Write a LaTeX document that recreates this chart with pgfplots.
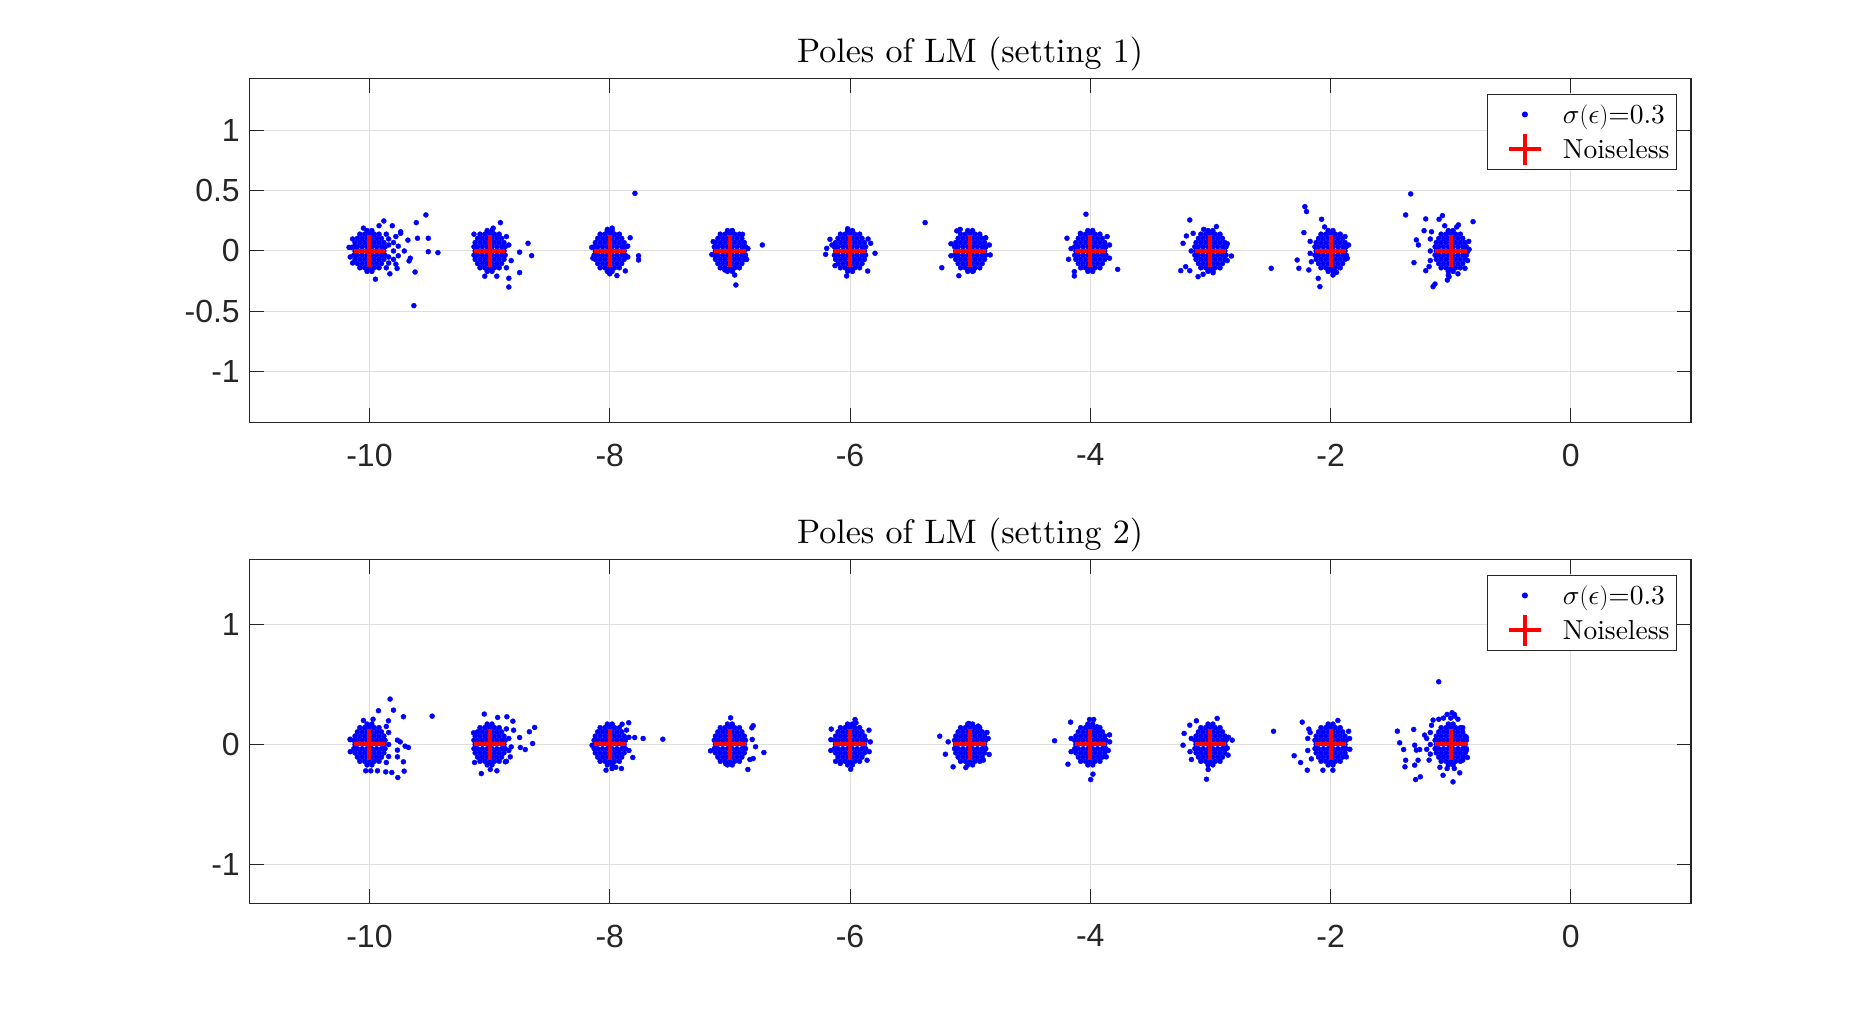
\documentclass[border=0pt]{standalone}
\usepackage{fontspec}
\setmainfont{lmroman10-regular.otf}[ItalicFont=lmroman10-italic.otf, BoldFont=lmroman10-bold.otf]
\DeclareFontShape{OML}{cmm}{m}{it}{<->cmmi10}{}
\usepackage{pgfplots}
\usepackage{pgfplotstable}
\pgfplotsset{compat=1.18}
\newfontfamily\arial{Liberation Sans}
\definecolor{axgray}{RGB}{38,38,38}
\definecolor{gridgray}{RGB}{223,223,223}

% dense core of every cluster (noisy poles)
\pgfplotstableread[row sep=\\]{
x y\\
-10.12 0\\-9.88 0\\
-10.13 0.035\\-10.10 0.035\\-10.06 0.035\\-10.02 0.035\\-9.98 0.035\\-9.94 0.035\\-9.90 0.035\\-9.87 0.035\\
-10.13 -0.035\\-10.10 -0.035\\-10.06 -0.035\\-10.02 -0.035\\-9.98 -0.035\\-9.94 -0.035\\-9.90 -0.035\\-9.87 -0.035\\
-10.12 0.07\\-10.08 0.07\\-10.04 0.07\\-10 0.07\\-9.96 0.07\\-9.92 0.07\\-9.88 0.07\\
-10.12 -0.07\\-10.08 -0.07\\-10.04 -0.07\\-10 -0.07\\-9.96 -0.07\\-9.92 -0.07\\-9.88 -0.07\\
-10.10 0.105\\-10.06 0.105\\-10.02 0.105\\-9.98 0.105\\-9.94 0.105\\-9.90 0.105\\
-10.10 -0.105\\-10.06 -0.105\\-10.02 -0.105\\-9.98 -0.105\\-9.94 -0.105\\-9.90 -0.105\\
-10.08 0.14\\-10.04 0.14\\-10 0.14\\-9.96 0.14\\-9.92 0.14\\
-10.08 -0.14\\-10.04 -0.14\\-10 -0.14\\-9.96 -0.14\\-9.92 -0.14\\
-10.02 0.17\\-9.98 0.17\\-10.02 -0.17\\-9.98 -0.17\\
-9.12 0\\-8.88 0\\
-9.13 0.035\\-9.10 0.035\\-9.06 0.035\\-9.02 0.035\\-8.98 0.035\\-8.94 0.035\\-8.90 0.035\\-8.87 0.035\\
-9.13 -0.035\\-9.10 -0.035\\-9.06 -0.035\\-9.02 -0.035\\-8.98 -0.035\\-8.94 -0.035\\-8.90 -0.035\\-8.87 -0.035\\
-9.12 0.07\\-9.08 0.07\\-9.04 0.07\\-9 0.07\\-8.96 0.07\\-8.92 0.07\\-8.88 0.07\\
-9.12 -0.07\\-9.08 -0.07\\-9.04 -0.07\\-9 -0.07\\-8.96 -0.07\\-8.92 -0.07\\-8.88 -0.07\\
-9.10 0.105\\-9.06 0.105\\-9.02 0.105\\-8.98 0.105\\-8.94 0.105\\-8.90 0.105\\
-9.10 -0.105\\-9.06 -0.105\\-9.02 -0.105\\-8.98 -0.105\\-8.94 -0.105\\-8.90 -0.105\\
-9.08 0.14\\-9.04 0.14\\-9 0.14\\-8.96 0.14\\-8.92 0.14\\
-9.08 -0.14\\-9.04 -0.14\\-9 -0.14\\-8.96 -0.14\\-8.92 -0.14\\
-9.02 0.17\\-8.98 0.17\\-9.02 -0.17\\-8.98 -0.17\\
-8.12 0\\-7.88 0\\
-8.13 0.035\\-8.10 0.035\\-8.06 0.035\\-8.02 0.035\\-7.98 0.035\\-7.94 0.035\\-7.90 0.035\\-7.87 0.035\\
-8.13 -0.035\\-8.10 -0.035\\-8.06 -0.035\\-8.02 -0.035\\-7.98 -0.035\\-7.94 -0.035\\-7.90 -0.035\\-7.87 -0.035\\
-8.12 0.07\\-8.08 0.07\\-8.04 0.07\\-8 0.07\\-7.96 0.07\\-7.92 0.07\\-7.88 0.07\\
-8.12 -0.07\\-8.08 -0.07\\-8.04 -0.07\\-8 -0.07\\-7.96 -0.07\\-7.92 -0.07\\-7.88 -0.07\\
-8.10 0.105\\-8.06 0.105\\-8.02 0.105\\-7.98 0.105\\-7.94 0.105\\-7.90 0.105\\
-8.10 -0.105\\-8.06 -0.105\\-8.02 -0.105\\-7.98 -0.105\\-7.94 -0.105\\-7.90 -0.105\\
-8.08 0.14\\-8.04 0.14\\-8 0.14\\-7.96 0.14\\-7.92 0.14\\
-8.08 -0.14\\-8.04 -0.14\\-8 -0.14\\-7.96 -0.14\\-7.92 -0.14\\
-8.02 0.17\\-7.98 0.17\\-8.02 -0.17\\-7.98 -0.17\\
-7.12 0\\-6.88 0\\
-7.13 0.035\\-7.10 0.035\\-7.06 0.035\\-7.02 0.035\\-6.98 0.035\\-6.94 0.035\\-6.90 0.035\\-6.87 0.035\\
-7.13 -0.035\\-7.10 -0.035\\-7.06 -0.035\\-7.02 -0.035\\-6.98 -0.035\\-6.94 -0.035\\-6.90 -0.035\\-6.87 -0.035\\
-7.12 0.07\\-7.08 0.07\\-7.04 0.07\\-7 0.07\\-6.96 0.07\\-6.92 0.07\\-6.88 0.07\\
-7.12 -0.07\\-7.08 -0.07\\-7.04 -0.07\\-7 -0.07\\-6.96 -0.07\\-6.92 -0.07\\-6.88 -0.07\\
-7.10 0.105\\-7.06 0.105\\-7.02 0.105\\-6.98 0.105\\-6.94 0.105\\-6.90 0.105\\
-7.10 -0.105\\-7.06 -0.105\\-7.02 -0.105\\-6.98 -0.105\\-6.94 -0.105\\-6.90 -0.105\\
-7.08 0.14\\-7.04 0.14\\-7 0.14\\-6.96 0.14\\-6.92 0.14\\
-7.08 -0.14\\-7.04 -0.14\\-7 -0.14\\-6.96 -0.14\\-6.92 -0.14\\
-7.02 0.17\\-6.98 0.17\\-7.02 -0.17\\-6.98 -0.17\\
-6.12 0\\-5.88 0\\
-6.13 0.035\\-6.10 0.035\\-6.06 0.035\\-6.02 0.035\\-5.98 0.035\\-5.94 0.035\\-5.90 0.035\\-5.87 0.035\\
-6.13 -0.035\\-6.10 -0.035\\-6.06 -0.035\\-6.02 -0.035\\-5.98 -0.035\\-5.94 -0.035\\-5.90 -0.035\\-5.87 -0.035\\
-6.12 0.07\\-6.08 0.07\\-6.04 0.07\\-6 0.07\\-5.96 0.07\\-5.92 0.07\\-5.88 0.07\\
-6.12 -0.07\\-6.08 -0.07\\-6.04 -0.07\\-6 -0.07\\-5.96 -0.07\\-5.92 -0.07\\-5.88 -0.07\\
-6.10 0.105\\-6.06 0.105\\-6.02 0.105\\-5.98 0.105\\-5.94 0.105\\-5.90 0.105\\
-6.10 -0.105\\-6.06 -0.105\\-6.02 -0.105\\-5.98 -0.105\\-5.94 -0.105\\-5.90 -0.105\\
-6.08 0.14\\-6.04 0.14\\-6 0.14\\-5.96 0.14\\-5.92 0.14\\
-6.08 -0.14\\-6.04 -0.14\\-6 -0.14\\-5.96 -0.14\\-5.92 -0.14\\
-6.02 0.17\\-5.98 0.17\\-6.02 -0.17\\-5.98 -0.17\\
-5.12 0\\-4.88 0\\
-5.13 0.035\\-5.10 0.035\\-5.06 0.035\\-5.02 0.035\\-4.98 0.035\\-4.94 0.035\\-4.90 0.035\\-4.87 0.035\\
-5.13 -0.035\\-5.10 -0.035\\-5.06 -0.035\\-5.02 -0.035\\-4.98 -0.035\\-4.94 -0.035\\-4.90 -0.035\\-4.87 -0.035\\
-5.12 0.07\\-5.08 0.07\\-5.04 0.07\\-5 0.07\\-4.96 0.07\\-4.92 0.07\\-4.88 0.07\\
-5.12 -0.07\\-5.08 -0.07\\-5.04 -0.07\\-5 -0.07\\-4.96 -0.07\\-4.92 -0.07\\-4.88 -0.07\\
-5.10 0.105\\-5.06 0.105\\-5.02 0.105\\-4.98 0.105\\-4.94 0.105\\-4.90 0.105\\
-5.10 -0.105\\-5.06 -0.105\\-5.02 -0.105\\-4.98 -0.105\\-4.94 -0.105\\-4.90 -0.105\\
-5.08 0.14\\-5.04 0.14\\-5 0.14\\-4.96 0.14\\-4.92 0.14\\
-5.08 -0.14\\-5.04 -0.14\\-5 -0.14\\-4.96 -0.14\\-4.92 -0.14\\
-5.02 0.17\\-4.98 0.17\\-5.02 -0.17\\-4.98 -0.17\\
-4.12 0\\-3.88 0\\
-4.13 0.035\\-4.10 0.035\\-4.06 0.035\\-4.02 0.035\\-3.98 0.035\\-3.94 0.035\\-3.90 0.035\\-3.87 0.035\\
-4.13 -0.035\\-4.10 -0.035\\-4.06 -0.035\\-4.02 -0.035\\-3.98 -0.035\\-3.94 -0.035\\-3.90 -0.035\\-3.87 -0.035\\
-4.12 0.07\\-4.08 0.07\\-4.04 0.07\\-4 0.07\\-3.96 0.07\\-3.92 0.07\\-3.88 0.07\\
-4.12 -0.07\\-4.08 -0.07\\-4.04 -0.07\\-4 -0.07\\-3.96 -0.07\\-3.92 -0.07\\-3.88 -0.07\\
-4.10 0.105\\-4.06 0.105\\-4.02 0.105\\-3.98 0.105\\-3.94 0.105\\-3.90 0.105\\
-4.10 -0.105\\-4.06 -0.105\\-4.02 -0.105\\-3.98 -0.105\\-3.94 -0.105\\-3.90 -0.105\\
-4.08 0.14\\-4.04 0.14\\-4 0.14\\-3.96 0.14\\-3.92 0.14\\
-4.08 -0.14\\-4.04 -0.14\\-4 -0.14\\-3.96 -0.14\\-3.92 -0.14\\
-4.02 0.17\\-3.98 0.17\\-4.02 -0.17\\-3.98 -0.17\\
-3.12 0\\-2.88 0\\
-3.13 0.035\\-3.10 0.035\\-3.06 0.035\\-3.02 0.035\\-2.98 0.035\\-2.94 0.035\\-2.90 0.035\\-2.87 0.035\\
-3.13 -0.035\\-3.10 -0.035\\-3.06 -0.035\\-3.02 -0.035\\-2.98 -0.035\\-2.94 -0.035\\-2.90 -0.035\\-2.87 -0.035\\
-3.12 0.07\\-3.08 0.07\\-3.04 0.07\\-3 0.07\\-2.96 0.07\\-2.92 0.07\\-2.88 0.07\\
-3.12 -0.07\\-3.08 -0.07\\-3.04 -0.07\\-3 -0.07\\-2.96 -0.07\\-2.92 -0.07\\-2.88 -0.07\\
-3.10 0.105\\-3.06 0.105\\-3.02 0.105\\-2.98 0.105\\-2.94 0.105\\-2.90 0.105\\
-3.10 -0.105\\-3.06 -0.105\\-3.02 -0.105\\-2.98 -0.105\\-2.94 -0.105\\-2.90 -0.105\\
-3.08 0.14\\-3.04 0.14\\-3 0.14\\-2.96 0.14\\-2.92 0.14\\
-3.08 -0.14\\-3.04 -0.14\\-3 -0.14\\-2.96 -0.14\\-2.92 -0.14\\
-3.02 0.17\\-2.98 0.17\\-3.02 -0.17\\-2.98 -0.17\\
-2.12 0\\-1.88 0\\
-2.13 0.035\\-2.10 0.035\\-2.06 0.035\\-2.02 0.035\\-1.98 0.035\\-1.94 0.035\\-1.90 0.035\\-1.87 0.035\\
-2.13 -0.035\\-2.10 -0.035\\-2.06 -0.035\\-2.02 -0.035\\-1.98 -0.035\\-1.94 -0.035\\-1.90 -0.035\\-1.87 -0.035\\
-2.12 0.07\\-2.08 0.07\\-2.04 0.07\\-2 0.07\\-1.96 0.07\\-1.92 0.07\\-1.88 0.07\\
-2.12 -0.07\\-2.08 -0.07\\-2.04 -0.07\\-2 -0.07\\-1.96 -0.07\\-1.92 -0.07\\-1.88 -0.07\\
-2.10 0.105\\-2.06 0.105\\-2.02 0.105\\-1.98 0.105\\-1.94 0.105\\-1.90 0.105\\
-2.10 -0.105\\-2.06 -0.105\\-2.02 -0.105\\-1.98 -0.105\\-1.94 -0.105\\-1.90 -0.105\\
-2.08 0.14\\-2.04 0.14\\-2 0.14\\-1.96 0.14\\-1.92 0.14\\
-2.08 -0.14\\-2.04 -0.14\\-2 -0.14\\-1.96 -0.14\\-1.92 -0.14\\
-2.02 0.17\\-1.98 0.17\\-2.02 -0.17\\-1.98 -0.17\\
-1.12 0\\-0.88 0\\
-1.13 0.035\\-1.10 0.035\\-1.06 0.035\\-1.02 0.035\\-0.98 0.035\\-0.94 0.035\\-0.90 0.035\\-0.87 0.035\\
-1.13 -0.035\\-1.10 -0.035\\-1.06 -0.035\\-1.02 -0.035\\-0.98 -0.035\\-0.94 -0.035\\-0.90 -0.035\\-0.87 -0.035\\
-1.12 0.07\\-1.08 0.07\\-1.04 0.07\\-1 0.07\\-0.96 0.07\\-0.92 0.07\\-0.88 0.07\\
-1.12 -0.07\\-1.08 -0.07\\-1.04 -0.07\\-1 -0.07\\-0.96 -0.07\\-0.92 -0.07\\-0.88 -0.07\\
-1.10 0.105\\-1.06 0.105\\-1.02 0.105\\-0.98 0.105\\-0.94 0.105\\-0.90 0.105\\
-1.10 -0.105\\-1.06 -0.105\\-1.02 -0.105\\-0.98 -0.105\\-0.94 -0.105\\-0.90 -0.105\\
-1.08 0.14\\-1.04 0.14\\-1 0.14\\-0.96 0.14\\-0.92 0.14\\
-1.08 -0.14\\-1.04 -0.14\\-1 -0.14\\-0.96 -0.14\\-0.92 -0.14\\
-1.02 0.17\\-0.98 0.17\\-1.02 -0.17\\-0.98 -0.17\\
}\coretab

% noiseless poles
\pgfplotstableread[row sep=\\]{
x y\\
-10 0\\-9 0\\-8 0\\-7 0\\-6 0\\-5 0\\-4 0\\-3 0\\-2 0\\-1 0\\
}\truetab

\pgfplotsset{
  limg/.style={legend image code/.code={%
      \path[draw=none,fill=none] (0pt,-17.5pt) rectangle (68pt,17.5pt);
      \draw[##1] plot coordinates {(30pt,0pt)};}},
  panel/.style={
    scale only axis, width=1441.7pt, height=344pt,
    xmin=-11, xmax=1,
    xtick={-10,-8,-6,-4,-2,0}, xticklabels={-10,-8,-6,-4,-2,0},
    tick align=inside, major tick length=14.5pt,
    tick style={axgray, line width=1pt},
    axis line style={axgray, line width=1.2pt},
    grid=major, major grid style={gridgray, line width=1pt},
    ticklabel style={font=\arial\fontsize{32}{38}\selectfont, text=axgray},
    xticklabel style={yshift=-18pt},
    yticklabel style={xshift=-6pt},
    title style={at={(0.5,1)}, anchor=base, yshift=9.3pt, font=\fontsize{34}{40}\selectfont},
    legend style={at={(1,1)}, anchor=north east, xshift=-14pt, yshift=-15.7pt,
      draw=axgray, line width=1pt, fill=white,
      font=\fontsize{27.5}{33}\selectfont,
      inner xsep=7pt, inner ysep=2.5pt, nodes={inner sep=0pt}},
    legend cell align=left,
    limg,
  },
  dots/.style={only marks, mark=*, mark size=2.5pt, blue, mark options={draw=none, fill=blue}, limg},
  crosses/.style={only marks, mark=+, mark size=15.8pt, red, line width=4pt, mark options={solid, line width=4pt, draw=red}, limg},
}

\begin{document}
\begin{tikzpicture}
\path[use as bounding box] (0pt,0pt) rectangle (1875pt,1016pt);

% ---------------- setting 1 ----------------
\begin{axis}[panel, at={(249.3pt,593.7pt)}, anchor=south west,
  ymin=-1.426, ymax=1.4375,
  ytick={-1,-0.5,0,0.5,1}, yticklabels={-1,-0.5,0,0.5,1},
  title={Poles of LM (setting 1)}]
\addplot[dots] table[x=x,y=y] {\coretab};
\addlegendentry{$\sigma(\epsilon)$=0.3}
\addplot[dots, forget plot] coordinates {
(-9.84,0.10) (-9.84,0.05) (-9.84,-0.05) (-9.84,-0.10) (-9.80,0.07) (-9.80,0) (-9.80,-0.07) (-9.86,0.14) (-9.86,-0.14) (-10.15,0.03) (-10.16,-0.05) (-10.14,0.10) (-10.14,-0.10) (-9.53,0.30) (-9.61,0.236) (-9.60,0.106) (-9.51,0.106) (-9.51,-0.006) (-9.43,-0.014) (-9.62,-0.175) (-9.63,-0.455) (-9.68,0.09) (-9.67,-0.083) (-9.66,-0.06) (-9.74,0.147) (-9.71,0) (-10.17,0.03) (-9.88,0.25) (-9.81,0.21) (-9.95,-0.235) (-9.83,-0.19) (-9.77,-0.145) (-9.74,0.16) (-9.92,0.21) (-10.05,0.19) (-9.76,0.04) (-9.76,-0.04) (-9.78,0.12) (-9.78,-0.11)
(-8.91,0.236) (-9.13,0.14) (-8.68,0.064) (-8.65,-0.039) (-8.75,-0.01) (-8.75,-0.18) (-8.84,-0.227) (-8.84,-0.30) (-8.94,-0.21) (-9.04,-0.21) (-8.84,0.05) (-8.82,-0.08) (-8.86,0.12) (-8.97,0.19) (-8.86,-0.14)
(-7.83,0.11) (-7.76,-0.04) (-7.76,-0.075) (-7.87,-0.166) (-7.94,-0.205) (-8.0,-0.19) (-7.79,0.48) (-8.15,0.03) (-8.14,-0.06) (-7.98,0.19) (-8.02,0.18) (-7.85,0.04) (-7.85,-0.05)
(-6.73,0.05) (-6.96,-0.20) (-6.95,-0.283) (-6.98,0.167) (-6.895,0.139) (-7.139,0.078) (-7.042,-0.158) (-7.15,-0.03) (-6.85,0.02) (-6.86,-0.07)
(-6.203,-0.028) (-6.194,0.022) (-6.167,0.097) (-6.125,-0.122) (-5.853,-0.167) (-5.792,-0.019) (-5.828,0.064) (-6.028,-0.208) (-5.85,0.10) (-6.02,0.185) (-6.15,0.05) (-5.375,0.236)
(-5.236,-0.139) (-5.094,-0.206) (-4.972,-0.164) (-5.111,0.167) (-5.083,0.18) (-4.833,-0.033) (-4.84,0.05) (-5.16,0.06) (-5.16,-0.04) (-4.87,0.11)
(-4.036,0.306) (-3.772,-0.153) (-4.133,-0.172) (-4.133,-0.208) (-4.194,0.106) (-4.181,-0.069) (-4.083,0.147) (-3.84,0.05) (-3.84,-0.06) (-4.16,0.02) (-3.86,0.12)
(-3.172,0.258) (-2.95,0.203) (-3.056,0.18) (-2.825,-0.042) (-3.2,0.125) (-3.228,0.064) (-3.206,-0.131) (-3.172,-0.164) (-3.103,-0.214) (-3.061,-0.194) (-2.978,-0.181) (-3.247,-0.164) (-3.144,0.147) (-3.16,0) (-2.86,0.06) (-2.86,-0.08) (-2.494,-0.144)
(-2.214,0.369) (-2.2,0.328) (-2.075,0.264) (-2.222,0.153) (-2.278,-0.075) (-2.264,-0.144) (-2.181,-0.158) (-2.089,-0.297) (-2.103,-0.228) (-1.95,-0.178) (-1.861,-0.061) (-2.17,0.08) (-2.17,-0.02) (-2.16,-0.09) (-1.85,0.05) (-1.88,0.12) (-2.05,0.2) (-1.98,-0.2)
(-1.333,0.475) (-1.375,0.3) (-1.208,0.267) (-1.069,0.294) (-1.097,0.264) (-0.936,0.217) (-0.814,0.244) (-1.222,0.169) (-1.286,0.092) (-1.269,0.05) (-1.306,-0.097) (-1.208,-0.164) (-1.147,-0.297) (-1.131,-0.275) (-1.028,-0.242) (-1.014,-0.214) (-0.881,-0.144) (-0.847,0.014) (-0.861,-0.006) (-1.17,0.10) (-1.17,0) (-1.17,-0.08) (-1.16,0.16) (-0.85,0.08) (-0.86,-0.08) (-1.05,0.21) (-0.95,0.2) (-1.02,-0.2) (-0.94,-0.19) (-1.18,-0.13)
};
\addplot[crosses] table[x=x,y=y] {\truetab};
\addlegendentry{Noiseless}
\end{axis}

% ---------------- setting 2 ----------------
\begin{axis}[panel, at={(249.3pt,112.7pt)}, anchor=south west,
  ymin=-1.3218, ymax=1.5415,
  ytick={-1,0,1}, yticklabels={-1,0,1},
  title={Poles of LM (setting 2)}]
\addplot[dots] table[x=x,y=y] {\coretab};
\addlegendentry{$\sigma(\epsilon)$=0.3}
\addplot[dots, forget plot] coordinates {
(-9.84,0.10) (-9.84,0) (-9.84,-0.10) (-10.16,0.04) (-10.16,-0.06) (-9.86,0.15) (-9.86,-0.15)
(-9.828,0.378) (-9.925,0.281) (-9.80,0.286) (-9.717,0.231) (-9.478,0.236) (-9.842,0.197) (-9.767,0.036) (-9.744,0.022) (-9.675,-0.025) (-9.703,-0.014) (-9.767,-0.047) (-9.767,-0.103) (-9.717,-0.144) (-9.711,-0.222) (-9.764,-0.275) (-9.814,-0.233) (-9.864,-0.228) (-9.933,-0.219) (-9.989,-0.219) (-10.031,-0.219) (-10.161,0.044) (-10.05,0.2) (-9.97,0.21)
(-9.044,0.253) (-8.933,0.225) (-8.856,0.231) (-8.806,0.194) (-8.80,0.119) (-8.625,0.142) (-8.669,0.106) (-8.75,0.058) (-8.642,0.008) (-8.703,-0.042) (-8.744,-0.025) (-8.828,-0.103) (-8.869,-0.144) (-8.939,-0.219) (-8.994,-0.208) (-9.069,-0.242) (-9.125,-0.15) (-9.133,0.097) (-8.84,0.05) (-8.84,-0.05) (-8.82,-0.02) (-8.86,0.13) (-8.86,-0.14)
(-7.842,0.181) (-7.897,0.169) (-7.792,0.058) (-7.722,0.05) (-7.558,0.044) (-7.808,-0.108) (-7.903,-0.2) (-8.031,-0.214) (-8.147,-0.006) (-7.84,0.06) (-7.84,-0.05) (-7.86,0.12) (-7.98,-0.2) (-7.95,-0.19)
(-6.994,0.222) (-6.981,0.156) (-6.806,0.156) (-6.817,0.139) (-6.814,0.042) (-6.786,-0.019) (-6.717,-0.067) (-6.806,-0.117) (-6.833,-0.125) (-6.85,-0.208) (-7.161,-0.053) (-7.036,-0.158)
(-5.958,0.208) (-6.156,0.128) (-5.842,0.119) (-5.994,-0.206) (-6.081,-0.158) (-5.858,-0.131) (-5.831,0.022) (-6.16,0.04) (-6.16,-0.05) (-5.84,-0.06) (-6.12,-0.14) (-5.95,0.18)
(-5.253,0.069) (-5.206,-0.081) (-5.142,-0.186) (-5.036,-0.192) (-4.933,0.153) (-5.011,0.175) (-4.842,-0.083) (-5.183,0.022) (-4.85,0.05) (-4.86,0.1) (-4.89,-0.13)
(-4.297,0.031) (-4.164,0.186) (-4.186,-0.164) (-3.978,-0.247) (-3.997,-0.292) (-3.867,-0.103) (-3.839,0.022) (-4.006,0.208) (-3.972,0.208) (-3.944,0.147) (-4.16,0.05) (-4.16,-0.06) (-3.84,0.08) (-3.85,-0.05)
(-2.944,0.217) (-3.117,0.197) (-3.172,0.161) (-3.219,0.092) (-3.228,-0.006) (-2.819,0.036) (-3.019,-0.208) (-3.033,-0.289) (-3.158,-0.125) (-2.853,-0.089) (-3.16,0.05) (-3.17,-0.06) (-2.85,0.06) (-2.86,-0.03) (-2.475,0.11)
(-2.236,0.186) (-2.181,0.128) (-1.939,0.2) (-1.842,0.05) (-1.869,-0.103) (-2.303,-0.094) (-2.25,-0.15) (-2.194,-0.214) (-2.064,-0.214) (-1.981,-0.214) (-2.19,0.05) (-2.19,-0.05) (-2.17,0.10) (-2.16,-0.12) (-1.84,-0.04) (-1.85,0.11)
(-1.17,0.10) (-1.17,0) (-1.17,-0.08) (-1.16,0.16) (-1.18,-0.13) (-1.20,0.05) (-1.20,-0.04) (-1.10,0.21) (-1.06,0.22) (-1.00,0.22) (-0.94,0.21) (-1.03,0.25) (-0.97,0.25) (-1.09,-0.19) (-1.03,-0.2) (-0.97,-0.2) (-0.87,0.06) (-0.87,-0.05) (-0.90,0.14) (-0.90,-0.13)
(-1.1,0.522) (-0.989,0.264) (-0.967,0.236) (-1.444,0.111) (-1.308,0.125) (-1.425,0.014) (-1.392,-0.042) (-1.3,-0.006) (-1.286,-0.047) (-1.258,-0.042) (-1.375,-0.131) (-1.381,-0.186) (-1.272,-0.131) (-1.3,-0.172) (-1.292,-0.292) (-1.253,-0.269) (-1.064,-0.256) (-0.981,-0.311) (-0.925,-0.236) (-0.861,-0.108) (-1.217,0.078) (-1.147,0.203)
};
\addplot[crosses] table[x=x,y=y] {\truetab};
\addlegendentry{Noiseless}
\end{axis}
\end{tikzpicture}
\end{document}
